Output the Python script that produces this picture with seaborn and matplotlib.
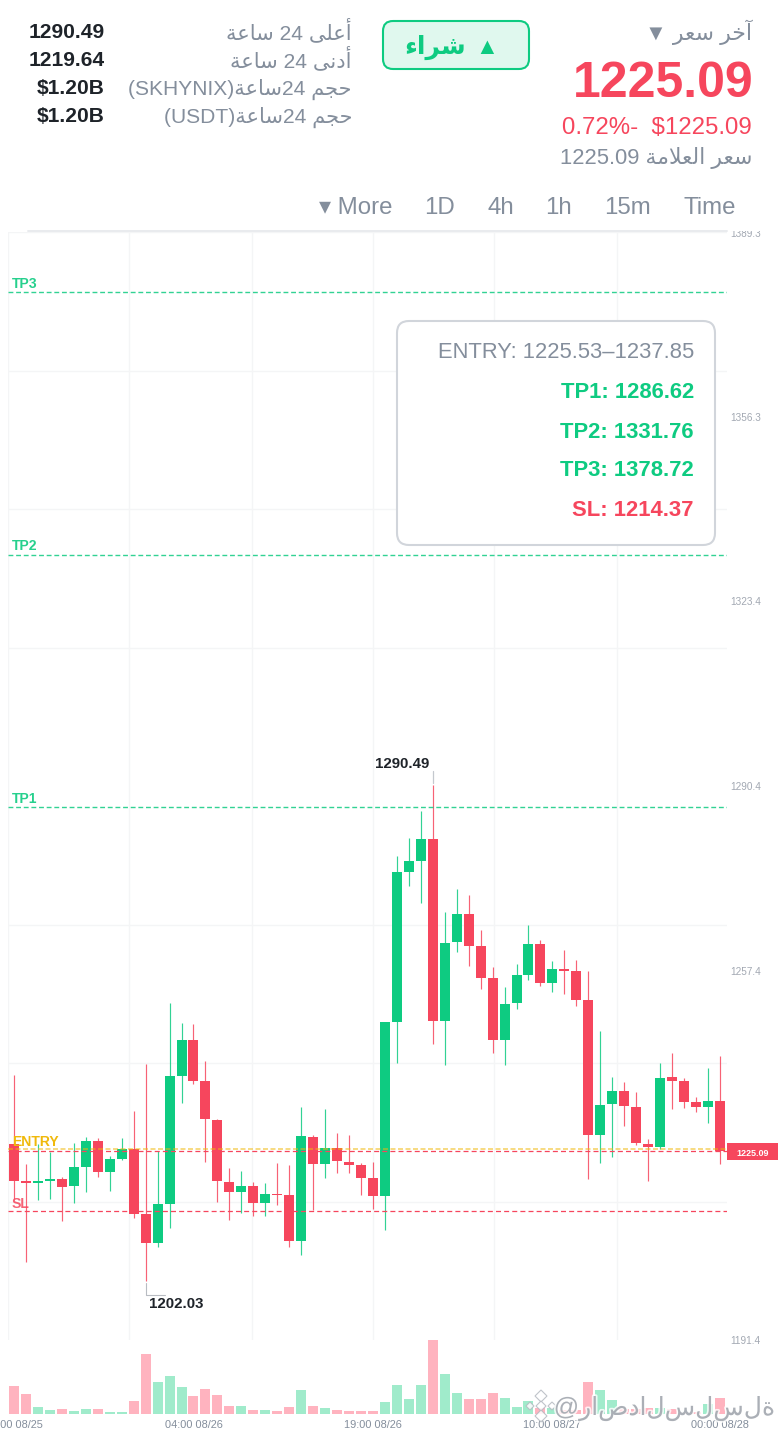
import re
import numpy as np
import pandas as pd
import seaborn as sns
import matplotlib
matplotlib.use("Agg")
import matplotlib.pyplot as plt
from matplotlib.patches import FancyBboxPatch, Rectangle, Polygon
from matplotlib.ticker import FixedLocator
import matplotlib.patheffects as pe

# ---------------- data ----------------
open_ = [1226.39,1219.78,1219.48,1219.84,1220.25,1218.89,1222.40,1227.04,1221.45,1223.83,
         1225.61,1213.89,1208.65,1215.67,1238.65,1245.02,1237.75,1230.79,1219.66,1217.87,
         1218.95,1215.97,1217.52,1217.28,1209.12,1227.75,1222.87,1225.79,1223.29,1222.70,
         1220.37,1217.22,1248.29,1274.96,1276.98,1280.91,1248.47,1262.46,1267.57,1261.80,
         1256.15,1245.02,1251.56,1256.62,1262.10,1255.19,1257.75,1257.28,1252.16,1228.05,
         1233.59,1235.97,1233.11,1226.50,1225.97,1238.47,1237.75,1233.94,1233.11,1234.12]
close = [1219.78,1219.48,1219.78,1220.20,1218.83,1222.40,1227.04,1221.39,1223.77,1225.61,
         1213.95,1208.65,1215.67,1238.65,1245.02,1237.75,1230.85,1219.78,1217.87,1218.95,
         1215.97,1217.46,1217.34,1209.12,1227.81,1222.87,1225.79,1223.35,1222.70,1220.43,
         1217.22,1248.29,1274.96,1276.98,1280.91,1248.41,1262.40,1267.46,1261.80,1256.15,
         1245.02,1251.50,1256.62,1262.10,1255.25,1257.69,1257.34,1252.22,1228.05,1233.47,
         1235.97,1233.17,1226.56,1225.97,1238.29,1237.75,1234.00,1233.11,1234.12,1225.09]
high  = [1238.77,1222.81,1226.39,1225.02,1220.61,1226.62,1227.70,1227.58,1224.30,1227.52,
         1232.34,1240.67,1225.14,1251.62,1247.99,1247.81,1241.21,1230.97,1222.22,1221.62,
         1219.66,1219.42,1223.11,1222.64,1232.99,1228.05,1232.64,1228.35,1228.11,1222.99,
         1223.17,1248.29,1277.81,1281.15,1285.97,1290.49,1267.93,1271.92,1270.97,1264.60,
         1257.99,1254.42,1258.59,1265.55,1262.87,1259.06,1261.03,1259.24,1257.28,1246.56,
         1238.35,1237.46,1235.67,1227.28,1240.85,1242.75,1238.17,1234.78,1240.07,1242.22]
low   = [1216.56,1205.25,1216.45,1216.62,1212.70,1215.97,1217.87,1220.55,1218.05,1223.59,
         1213.29,1202.03,1208.05,1211.33,1233.71,1237.16,1223.29,1216.09,1212.87,1214.18,
         1213.59,1213.47,1215.55,1207.99,1206.56,1214.60,1220.37,1221.21,1221.27,1217.40,
         1214.78,1211.03,1240.97,1272.52,1269.54,1244.30,1240.61,1260.73,1258.23,1254.06,
         1242.69,1240.55,1250.61,1255.73,1254.60,1253.59,1253.23,1251.09,1220.19,1223.05,
         1224.18,1229.66,1226.27,1219.90,1225.49,1232.75,1232.93,1232.16,1230.25,1222.93]
volume = [84,60,22,12,15,10,14,15,7,5,38,180,95,113,82,54,76,56,23,24,11,11,8,22,71,23,17,12,9,9,
          9,35,87,45,87,222,120,64,46,44,63,48,21,38,17,17,13,12,96,73,42,15,14,19,18,16,4,5,30,47]
x_tick_idx = [0, 15, 30, 45, 59]
x_tick_labels = ["13:00 08/25", "04:00 08/26", "19:00 08/26", "10:00 08/27", "00:00 08/28"]
y_ticks = [1389.3, 1356.3, 1323.4, 1290.4, 1257.4, 1191.4]
y_grid = [1389.4, 1364.65, 1339.9, 1315.15, 1290.4, 1265.65, 1240.9, 1216.15, 1191.4]
x_grid = [-0.5, 9.65, 19.85, 30.0, 40.1, 50.37]
tp_levels = [1286.62, 1331.76, 1378.72]
entry_level = 1225.53
sl_level = 1214.37
last_price = 1225.09

GREEN, RED = "#0ECB81", "#F6465D"
GREEN_L, RED_L = "#A0EBCB", "#FFB3BF"
GRAY, DARK = "#848E9C", "#1E2329"
GRID = "#F4F5F6"

# ---------------- Arabic shaping for display ----------------
FORMS = {"ا":(0xFE8D,0xFE8E),"أ":(0xFE83,0xFE84),"آ":(0xFE81,0xFE82),"د":(0xFEA9,0xFEAA),
         "ر":(0xFEAD,0xFEAE),"ة":(0xFE93,0xFE94),"ى":(0xFEEF,0xFEF0),"ء":(0xFE80,),
         "ح":(0xFEA1,0xFEA2,0xFEA3,0xFEA4),"خ":(0xFEA5,0xFEA6,0xFEA7,0xFEA8),
         "ج":(0xFE9D,0xFE9E,0xFE9F,0xFEA0),"س":(0xFEB1,0xFEB2,0xFEB3,0xFEB4),
         "ش":(0xFEB5,0xFEB6,0xFEB7,0xFEB8),"ص":(0xFEB9,0xFEBA,0xFEBB,0xFEBC),
         "ع":(0xFEC9,0xFECA,0xFECB,0xFECC),"ل":(0xFEDD,0xFEDE,0xFEDF,0xFEE0),
         "م":(0xFEE1,0xFEE2,0xFEE3,0xFEE4),"ن":(0xFEE5,0xFEE6,0xFEE7,0xFEE8)}

def shape_run(s):
    out, i = [], 0
    while i < len(s):
        c = s[i]
        prev = s[i-1] if i else ""
        joined = len(FORMS.get(prev, ())) == 4
        if c == "ل" and i + 1 < len(s) and s[i+1] == "ا":
            out.append(chr(0xFEFC if joined else 0xFEFB))
            i += 2
            continue
        f = FORMS[c]
        nxt = i + 1 < len(s) and s[i+1] != "ء"
        if len(f) == 1:
            out.append(chr(f[0]))
        elif len(f) == 2:
            out.append(chr(f[1] if joined else f[0]))
        else:
            out.append(chr(f[3] if joined and nxt else f[1] if joined else f[2] if nxt else f[0]))
        i += 1
    return "".join(reversed(out))

def ar(s):
    toks = re.findall(r"[\u0600-\u06FF]+|\s+|[^\s\u0600-\u06FF]+", s)
    return "".join(shape_run(t) if "\u0600" <= t[0] <= "\u06FF" else t for t in reversed(toks))

# ---------------- figure ----------------
sns.set_theme(style="white")
plt.rcParams["font.family"] = ["Liberation Sans", "DejaVu Sans"]
W, H = 780, 1432
fig = plt.figure(figsize=(W/100, H/100), dpi=100, facecolor="white")
px = lambda p: p * 0.72

def box(x0, y0, x1, y1):
    return [x0/W, 1 - y1/H, (x1-x0)/W, (y1-y0)/H]

ax = fig.add_axes(box(8, 232, 727, 1340))
axv = fig.add_axes(box(8, 1340, 727, 1414))

df = pd.DataFrame({"idx": np.arange(len(open_)), "open": open_, "close": close,
                   "high": high, "low": low, "volume": volume})
df["dir"] = np.where(df.close >= df.open, "up", "down")
df["bottom"] = df[["open", "close"]].min(axis=1)
df["body"] = (df.close - df.open).abs()

for d, col in (("up", GREEN), ("down", RED)):
    sub = df[df.dir == d]
    ax.vlines(sub.idx, sub.low, sub.high, color=col, lw=0.85, alpha=0.85, zorder=2)
    sns.barplot(data=sub, x="idx", y="body", bottom=sub.bottom.values, native_scale=True,
                color=col, saturation=1, width=0.836, gap=0, errorbar=None, linewidth=0,
                ax=ax, zorder=3)

ax.set_xlim(-0.501, 59.59)
ax.set_ylim(1191.4, 1389.4)
ax.set_xlabel("")
ax.set_ylabel("")
for s in ax.spines.values():
    s.set_visible(False)
ax.set_xticks(x_grid)
ax.set_xticklabels([])
ax.tick_params(axis="x", length=0)
ax.yaxis.tick_right()
ax.set_yticks(y_ticks)
ax.set_yticklabels([f"{v:.1f}" for v in y_ticks])
ax.yaxis.set_minor_locator(FixedLocator(y_grid))
ax.tick_params(axis="y", which="both", length=0, pad=2.0, labelsize=px(10), labelcolor="#A2A8B2")
ax.grid(True, axis="x", color=GRID, lw=1, zorder=0)
ax.grid(True, axis="y", which="minor", color=GRID, lw=1, zorder=0)
ax.grid(False, axis="y", which="major")
ax.set_axisbelow(True)

for lv in tp_levels:
    ax.axhline(lv, color=GREEN, lw=1, ls=(0, (3.5, 2)), alpha=0.85, zorder=4)
ax.axhline(entry_level, color="#F0B90B", lw=1.2, ls=(0, (3, 1.5)), alpha=0.6, zorder=4)
ax.axhline(sl_level, color=RED, lw=0.9, ls=(0, (4, 2.5)), zorder=4)
ax.axhline(last_price, color=RED, lw=0.9, ls=(0, (4, 2.5)), zorder=4)

sns.barplot(data=df, x="idx", y="volume", hue="dir", palette={"up": GREEN_L, "down": RED_L},
            dodge=False, native_scale=True, saturation=1, width=0.836, gap=0, errorbar=None,
            linewidth=0, legend=False, ax=axv)
axv.set_xlim(-0.501, 59.59)
axv.set_ylim(0, 222)
axv.set_xlabel("")
axv.set_ylabel("")
axv.set_yticks([])
for s in axv.spines.values():
    s.set_visible(False)
axv.set_xticks(x_tick_idx)
axv.set_xticklabels(x_tick_labels)
axv.tick_params(axis="x", length=0, pad=4.5, labelsize=px(11), labelcolor=GRAY)

# ---------------- overlay in screen pixels ----------------
ov = fig.add_axes([0, 0, 1, 1], zorder=10)
ov.set_xlim(0, W)
ov.set_ylim(H, 0)
ov.axis("off")
ov.patch.set_alpha(0)

def T(x, y, s, size, color=GRAY, ha="right", weight="normal", **kw):
    # y is the text baseline
    return ov.text(x, y, s, fontsize=px(size), color=color, ha=ha, va="baseline", fontweight=weight, **kw)

ov.add_patch(Rectangle((0, 0), W, 231, fc="white", ec="none", zorder=0))
ov.plot([28, 727], [231, 231], color="#E9EBEE", lw=1.4, zorder=1)

for y, v, lab in ((38.5, "1290.49", "أعلى 24 ساعة"), (66.5, "1219.64", "أدنى 24 ساعة"),
                  (94.5, "$1.20B", "حجم 24ساعة(SKHYNIX)"), (122.5, "$1.20B", "حجم 24ساعة(USDT)")):
    T(104.5, y, v, 21, DARK, weight="bold")
    T(352, y + 0.5, ar(lab), 21)

T(752, 40, "▼ " + ar("آخر سعر"), 22)
T(753, 97, "1225.09", 50, RED, weight="bold")
T(752, 134, "0.72%-  $1225.09", 24, RED)
T(752, 164, ar("سعر العلامة 1225.09"), 22)

ov.add_patch(FancyBboxPatch((383, 21), 146, 48, boxstyle="round,pad=0,rounding_size=10",
                            fc="#E0F8EE", ec=GREEN, lw=1.5, zorder=2))
T(498, 54.5, "▲", 23, GREEN, zorder=3)
T(466, 54, ar("شراء"), 25, GREEN, weight="bold", zorder=3)

for x, s in ((319, "▾ More"), (424, "1D"), (487.5, "4h"), (545, "1h"), (604, "15m"), (684, "Time")):
    T(x, 214, s, 24, ha="left")

ov.add_patch(FancyBboxPatch((397, 321), 318, 224, boxstyle="round,pad=0,rounding_size=12",
                            fc="white", ec="#D1D5DB", lw=1.5, zorder=2))
T(694, 358, "ENTRY: 1225.53–1237.85", 22, zorder=3)
T(694, 398.5, "TP1: 1286.62", 22, GREEN, weight="bold", zorder=3)
T(694, 438, "TP2: 1331.76", 22, GREEN, weight="bold", zorder=3)
T(694, 476, "TP3: 1378.72", 22, GREEN, weight="bold", zorder=3)
T(694, 516, "SL: 1214.37", 22, RED, weight="bold", zorder=3)

T(12, 287.5, "TP3", 14, GREEN, ha="left", weight="bold", alpha=0.9)
T(12, 550.5, "TP2", 14, GREEN, ha="left", weight="bold", alpha=0.9)
T(12, 803, "TP1", 14, GREEN, ha="left", weight="bold", alpha=0.9)
T(12, 1145.5, "ENTRY", 14, "#F0B90B", ha="left", weight="bold")
T(12, 1208, "SL", 14, RED, ha="left", weight="bold", alpha=0.85)

T(375, 767.5, "1290.49", 15, DARK, ha="left", weight="bold")
T(149.5, 1307.5, "1202.03", 15, DARK, ha="left", weight="bold")
ov.plot([433, 433], [771, 783], color="#C4C8CE", lw=0.9)
ov.plot([145.5, 145.5, 165], [1283, 1294.5, 1294.5], color="#B8BCC2", lw=0.8)

ov.add_patch(Rectangle((727, 1143), 51, 17, fc=RED, ec="none"))
T(752.5, 1156, "1225.09", 9, "white", ha="center", weight="bold")

# watermark
wm_logical = "@راصدالسلسلة"
wm_visual = "@" + "".join(chr(FORMS[c][0]) for c in wm_logical[1:])
wm_fx = [pe.withStroke(linewidth=2.5, foreground="white")]
T(775, 1415, wm_visual, 25, "#9AA0A8", alpha=0.8, path_effects=wm_fx)
for (cx, cy, r) in ((541, 1396, 6), (530, 1406, 4), (552, 1406, 4), (541, 1406, 5), (541, 1416, 6)):
    ov.add_patch(Polygon([(cx-r, cy), (cx, cy-r), (cx+r, cy), (cx, cy+r)], closed=True,
                         fc="white", ec="#B5BAC1", lw=0.8, alpha=0.85))

fig.savefig("out.png", dpi=100, facecolor="white")
